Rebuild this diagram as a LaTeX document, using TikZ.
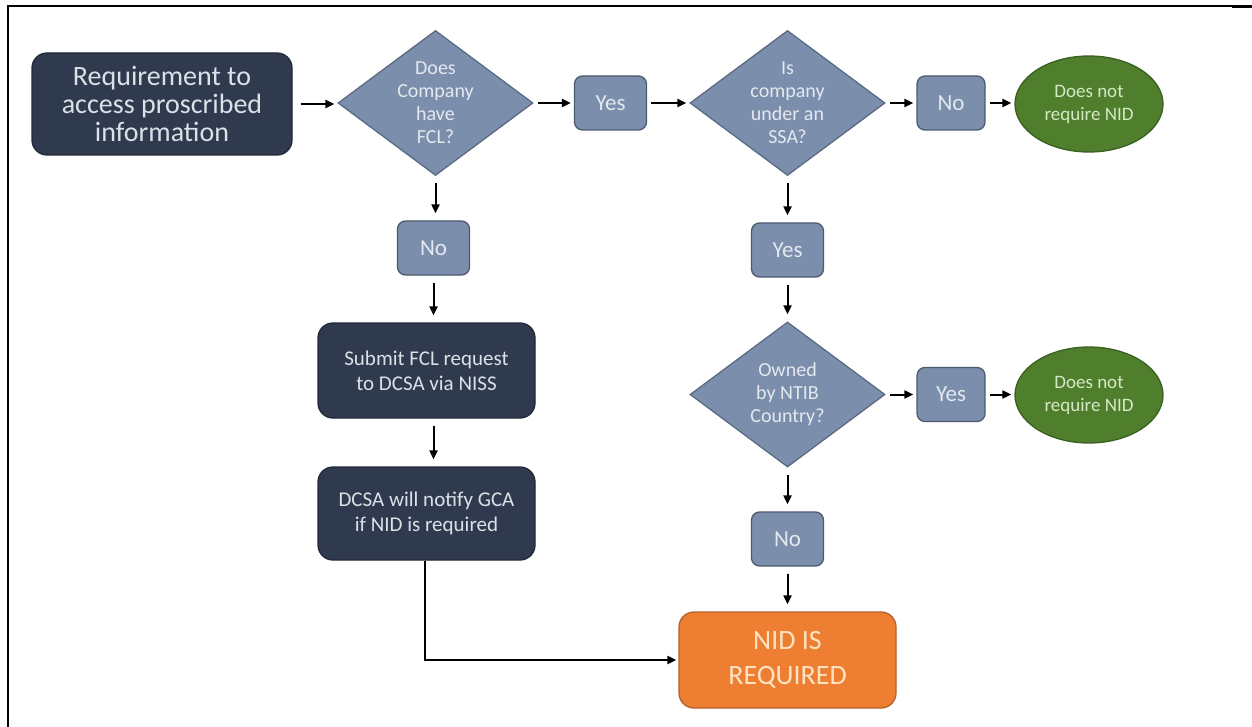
\documentclass[tikz,border=0pt]{standalone}
\usepackage{fontspec}
\setmainfont{Carlito}
\usetikzlibrary{shapes.geometric,arrows.meta}
\definecolor{navy}{HTML}{2F3A4F}
\definecolor{navyedge}{HTML}{222A38}
\definecolor{navytext}{HTML}{DCE1E8}
\definecolor{slate}{HTML}{7B8FAD}
\definecolor{slateedge}{HTML}{5A6A82}
\definecolor{answeredge}{HTML}{4C5A6F}
\definecolor{slatetext}{HTML}{E4E8EF}
\definecolor{okgreen}{HTML}{4F7E2C}
\definecolor{okedge}{HTML}{3A6020}
\definecolor{oktext}{HTML}{D6E9C6}
\definecolor{reqorange}{HTML}{EE7F32}
\definecolor{reqedge}{HTML}{B5612A}
\definecolor{reqtext}{HTML}{FDE3C1}
\tikzset{
  base/.style={inner sep=0pt, line width=1.3pt},
  navybox/.style={base, rectangle, rounded corners=15pt, fill=navy, draw=navyedge, text=navytext, align=center},
  decision/.style={base, diamond, fill=slate, draw=slateedge, minimum width=195pt, minimum height=145pt},
  dtext/.style={text=slatetext, align=center, font=\fontsize{20}{23}\selectfont, inner sep=0pt},
  answer/.style={base, rectangle, rounded corners=8pt, fill=slate, draw=answeredge, text=slatetext, minimum width=72pt, minimum height=54pt, font=\fontsize{23}{26}\selectfont},
  endok/.style={base, ellipse, fill=okgreen, draw=okedge, text=oktext, minimum width=148pt, minimum height=96pt, align=center, font=\fontsize{19}{23}\selectfont},
  required/.style={base, rectangle, rounded corners=15pt, fill=reqorange, draw=reqedge, text=reqtext, minimum width=217pt, minimum height=96pt, align=center, font=\fontsize{28}{35}\selectfont},
  arr/.style={line width=2pt, -{Triangle[length=9pt,width=8pt]}},
  harr/.style={arr, shorten <=4pt, shorten >=3pt},
  varr/.style={arr, shorten <=7pt, shorten >=7pt},
}
\begin{document}
\begin{tikzpicture}[x=1pt,y=-1pt]
\useasboundingbox (0,0) rectangle (1252,727);
\fill[white] (0,0) rectangle (1252,727);
% frame
\draw[line width=1.7pt] (8,6) -- (1252,6);
\draw[line width=2.6pt] (8,5) -- (8,727);
\fill (1232,5) rectangle (1252,8.5);

% nodes
\node[navybox, minimum width=260pt, minimum height=102pt, font=\fontsize{28}{28}\selectfont] (start) at (162,104) {Requirement to\\access proscribed\\information};
\node[decision, label={[dtext]center:{Does\\Company\\have\\FCL?}}] (d1) at (435.5,103) {};
\node[answer] (yes1) at (610.5,103) {Yes};
\node[decision, label={[dtext]center:{Is\\company\\under an\\SSA?}}] (d2) at (787.5,103) {};
\node[answer, minimum width=68pt] (no1) at (951,103) {No};
\node[endok] (e1) at (1089,104) {Does not\\require NID};

\node[answer] (no2) at (433.5,248) {No};
\node[navybox, minimum width=217pt, minimum height=95pt, font=\fontsize{21}{25}\selectfont] (submit) at (426.5,370.5) {Submit FCL request\\to DCSA via NISS};
\node[navybox, minimum width=217pt, minimum height=93pt, font=\fontsize{21}{25}\selectfont] (dcsa) at (426.5,513.5) {DCSA will notify GCA\\if NID is required};

\node[answer] (yes2) at (787.5,250) {Yes};
\node[decision, label={[dtext]center:{Owned\\by NTIB\\Country?}}] (d3) at (787.5,394.5) {};
\node[answer, minimum width=68pt] (yes3) at (951,394.5) {Yes};
\node[endok] (e2) at (1089,395) {Does not\\require NID};
\node[answer] (no3) at (787.5,539) {No};
\node[required] (req) at (787.5,660) {NID IS\\REQUIRED};

% connectors
\draw[harr, shorten <=8pt] (start.east) -- (start.east -| d1.west);
\draw[harr] (d1.east) -- (d1.east -| yes1.west);
\draw[harr] (yes1.east) -- (yes1.east -| d2.west);
\draw[harr] (d2.east) -- (d2.east -| no1.west);
\draw[harr] (no1.east) -- (no1.east -| e1.west);
\draw[varr] (d1.south) -- (d1.south |- no2.north);
\draw[varr] (no2.south) -- (no2.south |- submit.north);
\draw[varr] (no2.south |- submit.south) -- (no2.south |- dcsa.north);
\draw[arr, shorten >=2pt] ([xshift=-1.5pt]dcsa.south) |- (req.west);
\draw[varr] (d2.south) -- (d2.south |- yes2.north);
\draw[varr] (yes2.south) -- (yes2.south |- d3.north);
\draw[harr] (d3.east) -- (d3.east -| yes3.west);
\draw[harr] (yes3.east) -- (yes3.east -| e2.west);
\draw[varr] (d3.south) -- (d3.south |- no3.north);
\draw[varr] (no3.south) -- (no3.south |- req.north);
\end{tikzpicture}
\end{document}
